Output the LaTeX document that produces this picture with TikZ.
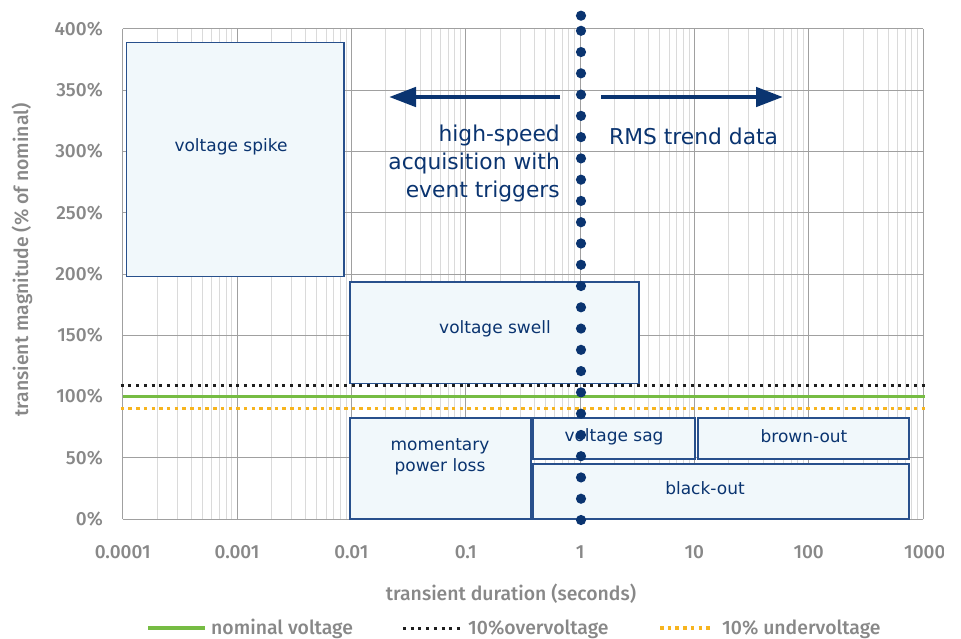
\documentclass[tikz,border=0pt]{standalone}
\usepackage{fontspec}
\setmainfont{DejaVu Sans}
\newfontfamily\navyfont{DejaVu Sans}
\newfontfamily\grayfont{Fira Sans}[UprightFont={* Medium}]
\usetikzlibrary{arrows.meta}
\definecolor{navy}{RGB}{10,52,112}
\definecolor{boxline}{RGB}{40,80,140}
\definecolor{boxfill}{RGB}{241,248,251}
\definecolor{axisgray}{RGB}{136,136,136}
\definecolor{majorgrid}{RGB}{160,160,160}
\definecolor{minorgrid}{RGB}{218,218,218}
\definecolor{nomgreen}{RGB}{118,188,67}
\definecolor{undorange}{RGB}{247,180,30}
\definecolor{ovblack}{RGB}{30,30,30}
\tikzset{
  evbox/.style={draw=boxline, fill=boxfill, line width=1.2pt},
  evlabel/.style={font=\navyfont\fontsize{17}{21}\selectfont, text=navy, align=center, inner sep=0pt},
  bigtext/.style={font=\navyfont\fontsize{21.8}{28}\selectfont, text=navy, inner sep=0pt},
  ticklab/.style={font=\grayfont\fontsize{19}{21}\selectfont, text=axisgray, inner sep=0pt},
  axtitle/.style={font=\grayfont\fontsize{19.4}{21}\selectfont, text=axisgray, inner sep=0pt},
  minorline/.style={draw=minorgrid, line width=0.9pt},
  majorline/.style={draw=majorgrid, line width=1pt},
  bigarrow/.style={draw=navy, line width=4.7pt, -{Triangle[length=27pt,width=19pt]}},
  nomline/.style={draw=nomgreen, line width=3.8pt},
  ovline/.style={draw=ovblack, line width=3pt, dash pattern=on 3pt off 4.7pt},
  unline/.style={draw=undorange, line width=3.5pt, dash pattern=on 3.5pt off 4.2pt},
}
\begin{document}
\begin{tikzpicture}[x=1pt,y=-1pt]
\useasboundingbox (0,0) rectangle (961,639);
\fill[white] (0,0) rectangle (961,639);
% grid
\def\xl{122.7}
\def\dec{114.33}
\foreach \i in {0,...,6}{
  \foreach \k in {2,...,9}{
    \draw[minorline] ({\xl+\dec*(\i+log10(\k))},29) -- ({\xl+\dec*(\i+log10(\k))},519);
  }
}
\foreach \i in {0,...,7}{
  \draw[majorline] ({\xl+\dec*\i},29) -- ({\xl+\dec*\i},519);
}
\foreach \j in {0,...,8}{
  \draw[majorline] (\xl,{519-61.25*\j}) -- (923,{519-61.25*\j});
}
% y tick labels
\foreach \j/\lab in {0/0\%,1/50\%,2/100\%,3/150\%,4/200\%,5/250\%,6/300\%,7/350\%,8/400\%}{
  \node[ticklab, anchor=east] (yt\j) at (103,{519-61.25*\j}) {\lab};
}
% x tick labels
\foreach \i/\lab in {0/0.0001,1/0.001,2/0.01,3/0.1,4/1,5/10,6/100}{
  \node[ticklab] (xt\i) at ({\xl+\dec*\i},552) {\lab};
}
\begin{scope}
  \clip (850,530) rectangle (943,575);
  \node[ticklab, anchor=west] (xt7) at (904,552) {1000};
\end{scope}
% axis titles
\node[axtitle, rotate=90] (ytitle) at (22,260) {transient magnitude (\% of nominal)};
\node[axtitle] (xtitle) at (511,594) {transient duration (seconds)};
% event boxes
\draw[evbox] (126.5,42.7) rectangle (344,276.5);
\draw[evbox] (350,282) rectangle (639,383.5);
\draw[evbox] (350,418) rectangle (531,519);
\draw[evbox] (533,418) rectangle (695,459);
\draw[evbox] (698,418) rectangle (909,459);
\draw[evbox] (533,464) rectangle (909,519);
% voltage lines
\draw[ovline] (120.7,385) -- (925,385);
\draw[nomline] (122.7,396.5) -- (925,396.5);
\draw[unline] (120.7,408.5) -- (925,408.5);
% box labels
\node[evlabel] (spike) at (231,147) {voltage spike};
\node[evlabel] (swell) at (495,329) {voltage swell};
\node[evlabel] (mpl) at (440,457) {momentary\\power loss};
\node[evlabel] (sag) at (614,437) {voltage sag};
\node[evlabel] (brown) at (804,436) {brown-out};
\node[evlabel] (black) at (705,488) {black-out};
% dotted divider
\foreach \k in {0,...,23}{
  \fill[navy] (581,{520-21.27*\k}) circle (5.1);
}
\fill[navy] (581,15.7) circle (5.1);
% arrows
\coordinate (lstart) at (560,97);
\coordinate (lend) at (389,97);
\coordinate (rstart) at (601,97);
\coordinate (rend) at (783,97);
\draw[bigarrow] (lstart) -- (lend);
\draw[bigarrow] (rstart) -- (rend);
\node[bigtext, anchor=east, align=right] (hs) at (560,163) {high-speed\\acquisition with\\event triggers};
\node[bigtext, anchor=west] (rms) at (609,136) {RMS trend data};
% legend
\coordinate (g1) at (148,628); \coordinate (g2) at (205,628);
\draw[nomline] (g1) -- (g2);
\node[axtitle, anchor=west] (lnom) at (211,629) {nominal voltage};
\coordinate (b1) at (403,628); \coordinate (b2) at (460,628);
\draw[ovline] (b1) -- (b2);
\node[axtitle, anchor=west] (lov) at (468,629) {10\%overvoltage};
\coordinate (o1) at (660,628); \coordinate (o2) at (712,628);
\draw[unline] (o1) -- (o2);
\node[axtitle, anchor=west] (lun) at (722,629) {10\% undervoltage};
\end{tikzpicture}
\end{document}
